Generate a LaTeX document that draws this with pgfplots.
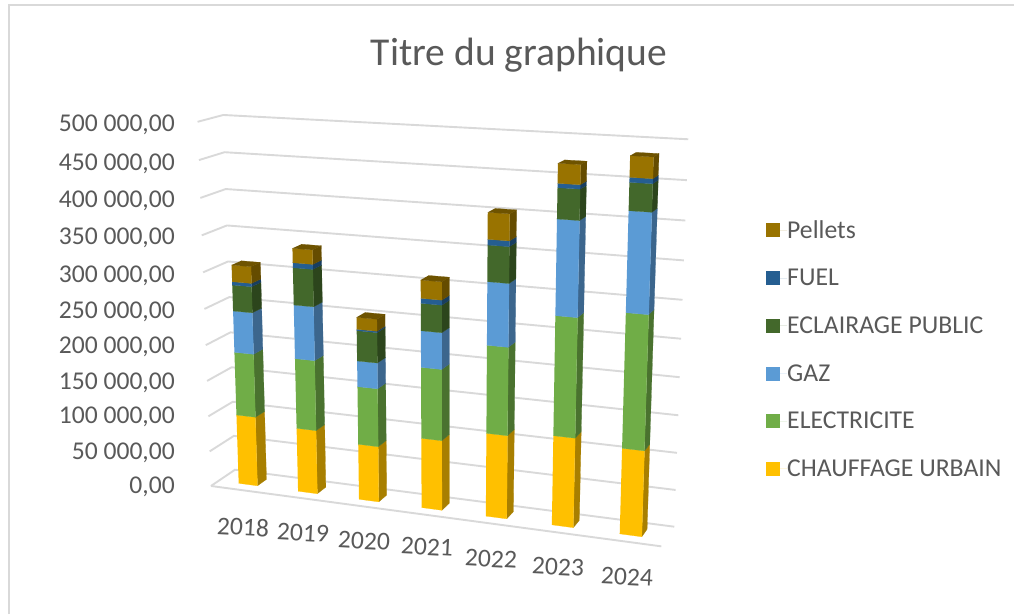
\documentclass[border=0pt]{standalone}
\usepackage{fontspec}
\setmainfont{Carlito}
\usepackage{pgfplots}
\usepackage{pgfplotstable}
\pgfplotsset{compat=1.18}

\definecolor{txt}{HTML}{595959}
\definecolor{gridc}{HTML}{D9D9D9}
\definecolor{cYel}{HTML}{FFC000}
\definecolor{cGrn}{HTML}{70AD47}
\definecolor{cBlu}{HTML}{5B9BD5}
\definecolor{cDkg}{HTML}{43682B}
\definecolor{cFue}{HTML}{255E91}
\definecolor{cPel}{HTML}{997300}
\tikzset{ticktext/.style={text=txt, inner sep=0pt, font=\fontsize{25.6}{30}\selectfont}}

% yearly values in thousands, stacked bottom to top
\pgfplotstableread{
year Chauffage Electricite Gaz Eclairage Fuel Pellets
2018 98.5  88.6  57.4  35.8 4.5 22.8
2019 89.7  97.3  73.6  50.4 6.7 19.3
2020 77.6  79.9  35.2  41.1 1.9 16.1
2021 96.4  96.6  49.0  36.4 6.6 24.0
2022 113.6 117.6 83.0  47.1 7.3 34.3
2023 120.7 157.3 122.6 38.9 5.4 24.7
2024 114.5 175.3 127.1 34.7 6.1 26.2
}\datatable

% perspective: u along the years, v value/500, t 0 at back wall and 1 at front
\newcommand{\addpt}[3]{%
  \pgfmathsetmacro\den{1-0.0877*#1-0.0526*#2-0.027*#3}%
  \pgfmathsetmacro\px{(235+380.17*#1-23.45*#2-29.7*#3)/\den}%
  \pgfmathsetmacro\py{(469.7+10.81*#1-360.75*#2+3.18*#3)/\den}%
  \xdef\coords{\coords (\px,\py)}}
\newcommand{\flush}[1]{%
  \edef\doplot{\noexpand\addplot[forget plot, #1] coordinates {\coords};}\doplot
  \gdef\coords{}}
\gdef\coords{}
\def\tf{0.68}
\def\tb{0.29}

\begin{document}
\begin{tikzpicture}
\begin{axis}[
    width=1014pt, height=614pt, scale only axis,
    xmin=0, xmax=1014, ymin=0, ymax=614, y dir=reverse,
    hide axis, clip=false,
    legend style={at={(axis cs:766,220.5)}, anchor=north west, draw=none, fill=none,
      font=\fontsize{25.7}{30}\selectfont, text=txt, row sep=29.4pt,
      inner sep=0pt, nodes={inner sep=0pt, anchor=west}},
    legend cell align=left,
    legend image code/.code={\fill[draw=none, #1] (0pt,-7pt) rectangle (14pt,7pt);
                             \path[draw=none] (0pt,0pt) -- (21pt,0pt);},
]
% frame of the screenshot
\addplot[forget plot, gridc, line width=2pt] coordinates {(9,614) (9,5) (1014,5)};

% gridlines: side wall and back wall
\foreach \lv in {0,0.1,...,1.01} {
  \addpt{0}{\lv}{1}\addpt{0}{\lv}{0}\addpt{1}{\lv}{0}
  \flush{gridc, line width=1.9pt}
}
% front floor edge
\addpt{0}{0}{1}\addpt{1}{0}{1}
\flush{gridc, line width=1.9pt}

% bars
\foreach \row in {0,...,6} {
  \pgfmathsetmacro\uA{(\row+0.5)/7-0.0228}
  \pgfmathsetmacro\uB{(\row+0.5)/7+0.0228}
  \xdef\cum{0}
  \foreach \col/\c in {Chauffage/cYel,Electricite/cGrn,Gaz/cBlu,Eclairage/cDkg,Fuel/cFue,Pellets/cPel} {
    \pgfplotstablegetelem{\row}{\col}\of\datatable
    \pgfmathsetmacro\lo{\cum/500}
    \pgfmathsetmacro\newcum{\cum+\pgfplotsretval}
    \xdef\cum{\newcum}
    \pgfmathsetmacro\hi{\cum/500}
    % side
    \addpt{\uB}{\lo}{\tf}\addpt{\uB}{\lo}{\tb}\addpt{\uB}{\hi}{\tb}\addpt{\uB}{\hi}{\tf}
    \flush{fill=\c!66!black, draw=\c!66!black, line width=0.2pt}
    % front
    \addpt{\uA}{\lo}{\tf}\addpt{\uB}{\lo}{\tf}\addpt{\uB}{\hi}{\tf}\addpt{\uA}{\hi}{\tf}
    \flush{fill=\c, draw=\c, line width=0.2pt}
  }
  % top of the stack
  \pgfmathsetmacro\hi{\cum/500}
  \addpt{\uA}{\hi}{\tf}\addpt{\uB}{\hi}{\tf}\addpt{\uB}{\hi}{\tb}\addpt{\uA}{\hi}{\tb}
  \flush{fill=cPel!72!black, draw=cPel!72!black, line width=0.2pt}
}

% legend
\addlegendimage{fill=cPel, draw=none}\addlegendentry{Pellets}
\addlegendimage{fill=cFue, draw=none}\addlegendentry{FUEL}
\addlegendimage{fill=cDkg, draw=none}\addlegendentry{ECLAIRAGE PUBLIC}
\addlegendimage{fill=cBlu, draw=none}\addlegendentry{GAZ}
\addlegendimage{fill=cGrn, draw=none}\addlegendentry{ELECTRICITE}
\addlegendimage{fill=cYel, draw=none}\addlegendentry{CHAUFFAGE URBAIN}

% text
\node[text=txt, font=\fontsize{39.5}{46}\selectfont] at (axis cs:519,55) {Titre du graphique};
\foreach \y/\t in {125/500 000{,}00, 164/450 000{,}00, 201/400 000{,}00, 238/350 000{,}00,
                   276/300 000{,}00, 312/250 000{,}00, 347/200 000{,}00, 383/150 000{,}00,
                   417/100 000{,}00, 453/50 000{,}00, 487/0{,}00} {
  \edef\temp{\noexpand\node[ticktext, anchor=east] at (axis cs:175,\y) {\t};}\temp
}
\foreach \x/\y/\t in {243/527/2018, 303/533/2019, 364/541/2020, 427/547/2021,
                      491/559/2022, 558/567/2023, 627/577/2024} {
  \edef\temp{\noexpand\node[ticktext, rotate=-3] at (axis cs:\x,\y) {\t};}\temp
}
\end{axis}
\pgfresetboundingbox
\useasboundingbox (current axis.south west) rectangle (current axis.north east);
\end{tikzpicture}
\end{document}
